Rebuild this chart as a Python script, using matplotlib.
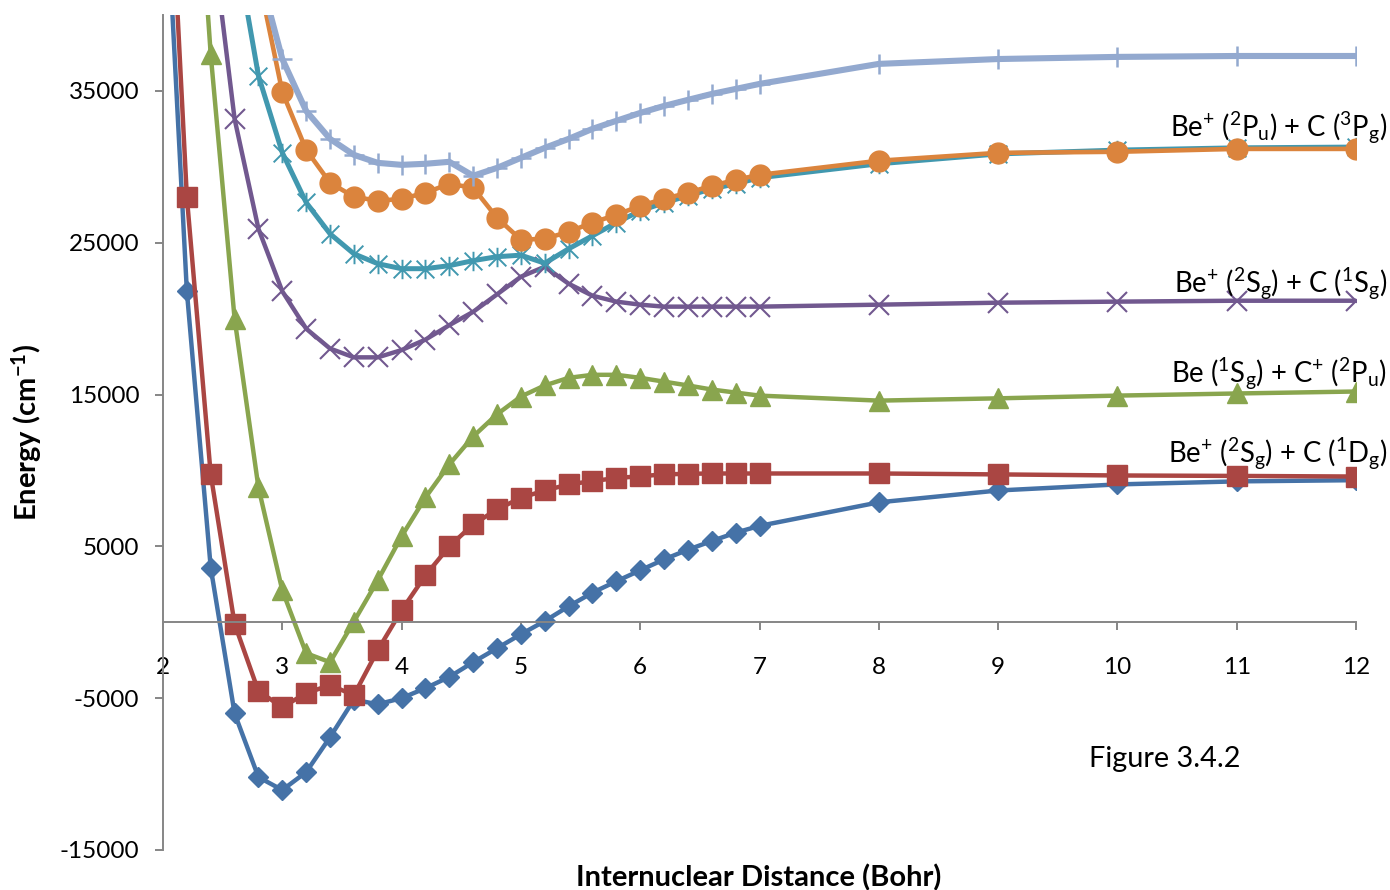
import numpy as np
import matplotlib
matplotlib.use('Agg')
import matplotlib.pyplot as plt
from matplotlib.path import Path

plt.rcParams['font.family'] = ['Lato', 'DejaVu Sans']
plt.rcParams['mathtext.fontset'] = 'custom'
plt.rcParams['mathtext.rm'] = 'Lato'
plt.rcParams['mathtext.it'] = 'Lato:italic'
plt.rcParams['mathtext.bf'] = 'Lato:bold'
plt.rcParams['axes.unicode_minus'] = False

nan = np.nan

# internuclear distance (bohr)
r = [2.0, 2.2, 2.4, 2.6, 2.8, 3.0, 3.2, 3.4, 3.6, 3.8, 4.0, 4.2, 4.4, 4.6, 4.8,
     5.0, 5.2, 5.4, 5.6, 5.8, 6.0, 6.2, 6.4, 6.6, 6.8, 7.0, 8, 9, 10, 11, 12]

# energies (cm-1), values above the plot top only give the line its slope
e_blue = [52000, 21800, 3600, -6000, -10200, -11050, -9870, -7570, -5100, -5400,
          -5000, -4340, -3600, -2630, -1710, -790, 80, 1050, 1950, 2700, 3420,
          4140, 4780, 5350, 5900, 6350, 7900, 8680, 9080, 9280, 9360]
e_red = [59000, 28000, 9740, -100, -4540, -5590, -4670, -4140, -4800, -1840,
         790, 3090, 5000, 6450, 7430, 8200, 8680, 9080, 9300, 9500, 9620, 9740,
         9780, 9800, 9800, 9800, 9800, 9740, 9670, 9640, 9600]
e_green = [nan, 60000, 37400, 20000, 8880, 2100, -2040, -2630, 50, 2760, 5660,
           8220, 10400, 12240, 13700, 14870, 15600, 16100, 16300, 16300, 16100,
           15850, 15600, 15330, 15130, 14930, 14600, 14750, 14930, 15070, 15200]
e_purple = [nan, nan, 46000, 33160, 25920, 21800, 19340, 18030, 17450, 17450,
            17930, 18620, 19570, 20450, 21600, 22760, 23420, 22300, 21510, 21120,
            20920, 20790, 20790, 20790, 20790, 20790, 20920, 21050, 21120, 21180, 21180]
e_teal = [nan, nan, nan, 45000, 36000, 30930, 27650, 25590, 24270, 23620, 23290,
          23290, 23490, 23820, 24080, 24180, 23650, 24600, 25460, 26320, 27100,
          27630, 28090, 28550, 28880, 29280, 30200, 30850, 31100, 31250, 31300]
e_orange = [nan, nan, nan, nan, 42500, 34930, 31120, 28950, 28030, 27760, 27890,
            28290, 28880, 28620, 26640, 25200, 25260, 25720, 26320, 26840, 27430,
            27890, 28290, 28750, 29140, 29470, 30400, 30920, 30990, 31180, 31180]
e_light = [nan, nan, nan, nan, 43000, 37100, 33680, 31840, 30790, 30260, 30130,
           30200, 30330, 29410, 29930, 30590, 31250, 31840, 32500, 33030, 33550,
           34010, 34410, 34800, 35130, 35460, 36780, 37100, 37240, 37300, 37300]

x_ticks = [2, 3, 4, 5, 6, 7, 8, 9, 10, 11, 12]
y_ticks = [-15000, -5000, 5000, 15000, 25000, 35000]

labels = [r'Be$^{+}$ ($^{2}$P$_{\mathrm{u}}$) + C ($^{3}$P$_{\mathrm{g}}$)',
          r'Be$^{+}$ ($^{2}$S$_{\mathrm{g}}$) + C ($^{1}$S$_{\mathrm{g}}$)',
          r'Be ($^{1}$S$_{\mathrm{g}}$) + C$^{+}$ ($^{2}$P$_{\mathrm{u}}$)',
          r'Be$^{+}$ ($^{2}$S$_{\mathrm{g}}$) + C ($^{1}$D$_{\mathrm{g}}$)']

# excel style asterisk: an x with a vertical bar
asterisk = Path([(-1, -1), (1, 1), (-1, 1), (1, -1), (0, -1.1), (0, 1.1)],
                [Path.MOVETO, Path.LINETO] * 3)

fig = plt.figure(figsize=(13.9, 8.9), dpi=100)
ax = fig.add_axes([163/1390, 1-850/890, (1356-163)/1390, (850-15)/890])

ax.plot(r, e_blue, color='#4572A7', lw=3.2, marker='D', ms=10, mec='#4572A7')
ax.plot(r, e_red, color='#AA4643', lw=3.2, marker='s', ms=14.5, mec='#AA4643')
ax.plot(r, e_green, color='#89A54E', lw=3.2, marker='^', ms=15, mec='#89A54E')
ax.plot(r, e_purple, color='#71588F', lw=3.2, marker='x', ms=14, mew=1.5)
ax.plot(r, e_teal, color='#4198AF', lw=3.6, marker=asterisk, ms=14, mew=1.4)
ax.plot(r, e_orange, color='#DB843D', lw=3.3, marker='o', ms=15, mec='#DB843D')
ax.plot(r, e_light, color='#93A9CF', lw=4.4, marker='+', ms=14, mew=1.8)

ax.set_xlim(2, 12)
ax.set_ylim(-15000, 40000)
ax.set_xticks(x_ticks)
ax.set_xticklabels([str(v) for v in x_ticks])
ax.set_yticks(y_ticks)
ax.set_yticklabels([str(v) for v in y_ticks])

for s in ['top', 'right']:
    ax.spines[s].set_visible(False)
ax.spines['bottom'].set_position(('data', 0))
for s in ['left', 'bottom']:
    ax.spines[s].set_color('#868686')
    ax.spines[s].set_linewidth(1.4)
ax.tick_params(axis='both', direction='out', length=6, width=1.4,
               color='#868686', labelsize=17.5)
ax.tick_params(axis='x', pad=19)
ax.tick_params(axis='y', pad=11)

fig.text(27/1390, 1-432/890, r'Energy (cm$^{\mathbf{-1}}$)', rotation=90,
         fontsize=21, fontweight='bold', ha='center', va='center')
fig.text(759/1390, 1-886/890, 'Internuclear Distance (Bohr)', fontsize=21,
         fontweight='bold', ha='center', va='baseline')

for lab, yb in zip(labels, [137, 292, 382, 463]):
    fig.text(1387/1390, 1-yb/890, lab, fontsize=19.8, ha='right', va='baseline')

fig.text(1089/1390, 1-767/890, 'Figure 3.4.2', fontsize=20.8, ha='left',
         va='baseline')

fig.savefig('out.png', dpi=100)
